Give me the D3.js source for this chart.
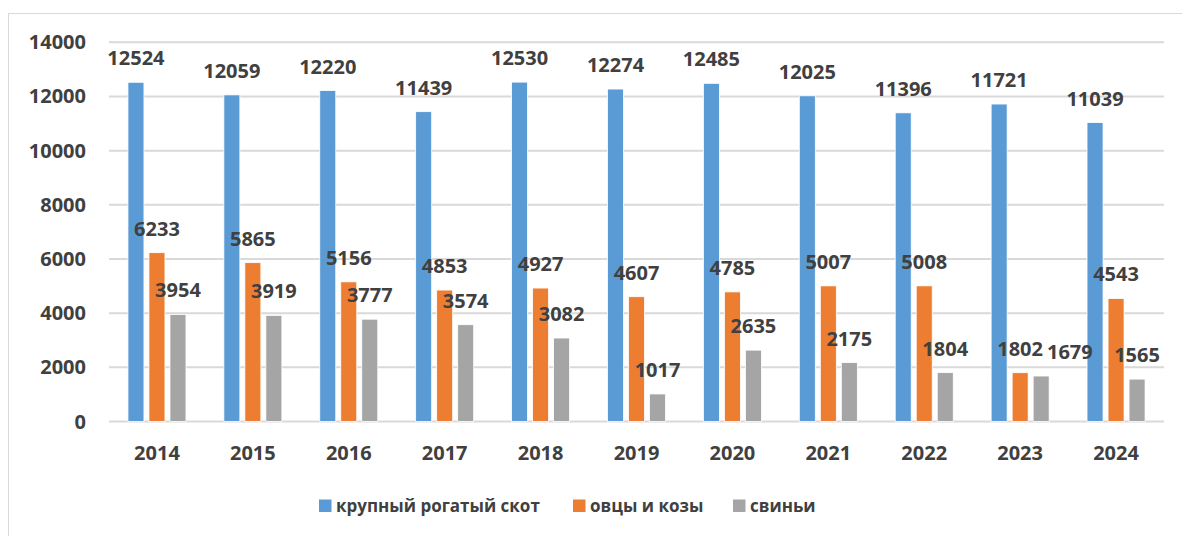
<!DOCTYPE html>
<html>
<head>
<meta charset="utf-8">
<script src="https://cdn.jsdelivr.net/npm/d3@7"></script>
<style>
  body { margin: 0; background: #fff; }
  text { font-family: "Open Sans", sans-serif; font-weight: bold; fill: #404040; }
</style>
</head>
<body>
<div id="chart"></div>
<script>
// data
var years = ["2014", "2015", "2016", "2017", "2018", "2019", "2020", "2021", "2022", "2023", "2024"];
var cattle = [12524, 12059, 12220, 11439, 12530, 12274, 12485, 12025, 11396, 11721, 11039];
var sheepGoats = [6233, 5865, 5156, 4853, 4927, 4607, 4785, 5007, 5008, 1802, 4543];
var pigs = [3954, 3919, 3777, 3574, 3082, 1017, 2635, 2175, 1804, 1679, 1565];
var seriesNames = ["крупный рогатый скот", "овцы и козы", "свиньи"];
var yTicks = [0, 2000, 4000, 6000, 8000, 10000, 12000, 14000];

var colors = ["#5B9BD5", "#ED7D31", "#A5A5A5"];
var allSeries = [cattle, sheepGoats, pigs];

var width = 1182, height = 536;
// plot area edges (window.top is taken, so own names)
var plotLeft = 109, plotRight = 1164, plotTop = 42.3, plotBottom = 421.5;

var svg = d3.select("#chart").append("svg")
  .attr("width", width)
  .attr("height", height);

// outer frame (goes off the picture on the right and bottom)
svg.append("rect")
  .attr("x", 8.5).attr("y", 13.5)
  .attr("width", 1200).attr("height", 600)
  .attr("fill", "none").attr("stroke", "#d9d9d9").attr("stroke-width", 1);

var x0 = d3.scaleBand().domain(years).range([plotLeft, plotRight])
  .paddingInner(0.395).paddingOuter(0.1975);
var x1 = d3.scaleBand().domain([0, 1, 2]).range([0, x0.bandwidth()])
  .paddingInner(0.238).paddingOuter(0);
var y = d3.scaleLinear().domain([0, 14000]).range([plotBottom, plotTop]);

// gridlines
svg.append("g").selectAll("line").data(yTicks).enter().append("line")
  .attr("x1", plotLeft).attr("x2", plotRight)
  .attr("y1", function(d) { return y(d); })
  .attr("y2", function(d) { return y(d); })
  .attr("stroke", "#d9d9d9").attr("stroke-width", 2);

// y tick labels
svg.append("g").selectAll("text").data(yTicks).enter().append("text")
  .attr("x", 86)
  .attr("y", function(d) { return y(d); })
  .attr("dy", "0.35em")
  .attr("text-anchor", "end")
  .attr("font-size", 20)
  .text(function(d) { return d; });

// year labels
svg.append("g").selectAll("text").data(years).enter().append("text")
  .attr("x", function(d) { return x0(d) + x0.bandwidth() / 2; })
  .attr("y", 453)
  .attr("dy", "0.35em")
  .attr("text-anchor", "middle")
  .attr("font-size", 20)
  .text(function(d) { return d; });

// bars
allSeries.forEach(function(vals, s) {
  var g = svg.append("g");
  g.selectAll("rect").data(vals).enter().append("rect")
    .attr("x", function(d, i) { return x0(years[i]) + x1(s); })
    .attr("y", function(d) { return y(d); })
    .attr("width", x1.bandwidth())
    .attr("height", function(d) { return y(0) - y(d); })
    .attr("fill", colors[s])
    .attr("stroke", "#fff").attr("stroke-width", 0.8);
});

// value labels (drawn after all bars so they sit on top)
var labelNodes = [];
allSeries.forEach(function(vals, s) {
  var sel = svg.append("g").selectAll("text").data(vals).enter().append("text")
    .attr("x", function(d, i) { return x0(years[i]) + x1(s) + x1.bandwidth() / 2; })
    .attr("y", function(d) { return y(d) - 24; })
    .attr("dy", "0.35em")
    .attr("text-anchor", "middle")
    .attr("font-size", 20)
    .text(function(d) { return d; });
  labelNodes.push(sel.nodes());
});

// like excel: push a label right if it runs into the one before it
years.forEach(function(yr, i) {
  for (var s = 1; s < allSeries.length; s++) {
    var prev = labelNodes[s - 1][i].getBBox();
    var node = labelNodes[s][i];
    var cur = node.getBBox();
    var overlapY = cur.y < prev.y + prev.height && prev.y < cur.y + cur.height;
    if (overlapY && cur.x < prev.x + prev.width + 4) {
      var shift = prev.x + prev.width + 4 - cur.x;
      node.setAttribute("x", +node.getAttribute("x") + shift);
    }
  }
});

// legend
var legendX = [319, 573, 733];
var legend = svg.append("g").selectAll("g").data(seriesNames).enter().append("g")
  .attr("transform", function(d, i) { return "translate(" + legendX[i] + ",506)"; });
legend.append("rect")
  .attr("x", 0).attr("y", -6.5)
  .attr("width", 12.5).attr("height", 12.5)
  .attr("fill", function(d, i) { return colors[i]; });
legend.append("text")
  .attr("x", 17)
  .attr("dy", "0.35em")
  .attr("font-size", 17)
  .text(function(d) { return d; });
</script>
</body>
</html>
